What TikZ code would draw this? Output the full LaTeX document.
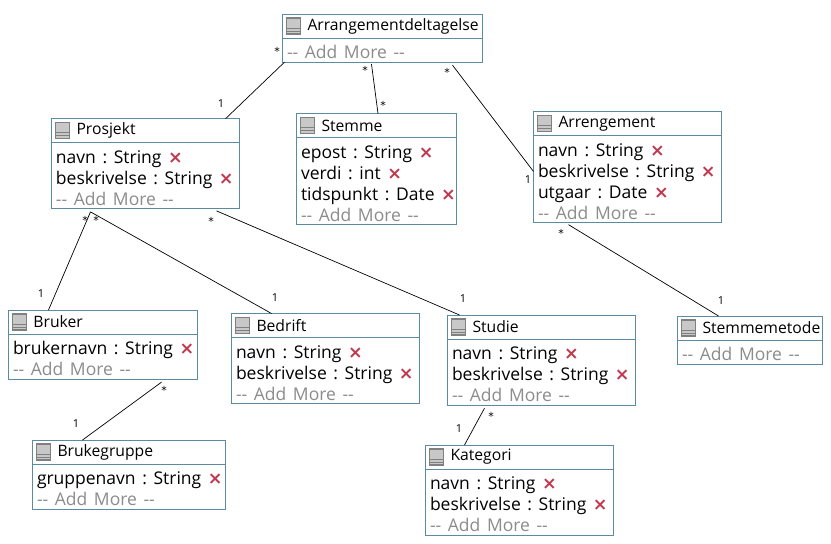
\documentclass[tikz,border=0pt]{standalone}
\usepackage{fontspec}
\setmainfont{Open Sans}
\newfontfamily\xfont{DejaVu Sans}
\usetikzlibrary{positioning}
\frenchspacing
\definecolor{boxline}{HTML}{5B8AA3}
\definecolor{moregray}{HTML}{8C8C8C}
\definecolor{delred}{HTML}{C0394F}
\definecolor{icongray}{HTML}{808080}
\definecolor{iconfill}{HTML}{C8C8C8}
\newcommand{\delx}{\makebox[0pt][l]{\textcolor{delred}{{\xfont\bfseries\char"00D7}}}}
\newcommand{\addmore}{\textcolor{moregray}{{-}{-} Add More {-}{-}}}
\newcommand{\mstar}{\raisebox{-3pt}{\xfont *}}
\newcommand{\bodystart}{\setlength{\spaceskip}{6.6pt}\rule{0pt}{17pt}}
\begin{document}
\begin{tikzpicture}[x=1pt,y=1pt,
classtitle/.style={draw=boxline,line width=1pt,fill=white,outer sep=0pt,anchor=north west,
  text width=#1,minimum height=24pt,inner xsep=0pt,inner ysep=0pt,align=left,
  execute at begin node={\hspace*{25pt}},font=\fontsize{15.7}{18}\selectfont},
classbody/.style={draw=boxline,line width=1pt,fill=white,outer sep=0pt,text width=#1-9pt,
  inner xsep=4.5pt,inner ysep=3.5pt,align=left,execute at begin node={\bodystart},
  font=\fontsize{17.5}{21}\selectfont},
link/.style={draw,line width=0.7pt},
mult/.style={font=\fontsize{11}{12}\selectfont,inner sep=0pt},
pics/classicon/.style={code={
  \draw[icongray,line width=1.5pt,fill=iconfill] (-7,-8) rectangle (7,8);
  \draw[icongray,line width=1pt] (-7,-2) -- (7,-2) (-7,-5) -- (7,-5);
}}]
\useasboundingbox (0,0) rectangle (831,-544);

% connectors first, boxes on top
\node[classtitle=200pt] (deltagelse) at (282.5,-14) {Arrangementdeltagelse};
\node[classbody=200pt,below=0pt of deltagelse] (deltagelsebody) {\addmore};
\pic at ([xshift=11pt]deltagelse.west) {classicon};

\node[classtitle=188pt] (prosjekt) at (51.5,-118.7) {Prosjekt};
\node[classbody=188pt,below=0pt of prosjekt] (prosjektbody) {navn : String \delx\\beskrivelse : String \delx\\\addmore};
\pic at ([xshift=11pt]prosjekt.west) {classicon};

\node[classtitle=160pt] (stemme) at (296.5,-113.5) {Stemme};
\node[classbody=160pt,below=0pt of stemme] (stemmebody) {epost : String \delx\\verdi : int \delx\\tidspunkt : Date \delx\\\addmore};
\pic at ([xshift=11pt]stemme.west) {classicon};

\node[classtitle=188pt] (arrengement) at (533.5,-111.5) {Arrengement};
\node[classbody=188pt,below=0pt of arrengement] (arrengementbody) {navn : String \delx\\beskrivelse : String \delx\\utgaar : Date \delx\\\addmore};
\pic at ([xshift=11pt]arrengement.west) {classicon};

\node[classtitle=189pt] (bruker) at (8.5,-310) {Bruker};
\node[classbody=189pt,below=0pt of bruker] (brukerbody) {brukernavn : String \delx\\\addmore};
\pic at ([xshift=11pt]bruker.west) {classicon};

\node[classtitle=188pt] (bedrift) at (231.5,-313.5) {Bedrift};
\node[classbody=188pt,below=0pt of bedrift] (bedriftbody) {navn : String \delx\\beskrivelse : String \delx\\\addmore};
\pic at ([xshift=11pt]bedrift.west) {classicon};

\node[classtitle=188pt] (studie) at (447.5,-315) {Studie};
\node[classbody=188pt,below=0pt of studie] (studiebody) {navn : String \delx\\beskrivelse : String \delx\\\addmore};
\pic at ([xshift=11pt]studie.west) {classicon};

\node[classtitle=145pt] (stemmemetode) at (677.5,-316) {Stemmemetode};
\node[classbody=145pt,below=0pt of stemmemetode] (stemmemetodebody) {\addmore};
\pic at ([xshift=11pt]stemmemetode.west) {classicon};

\node[classtitle=193pt] (brukegruppe) at (32.5,-440) {Brukegruppe};
\node[classbody=193pt,below=0pt of brukegruppe] (brukegruppebody) {gruppenavn : String \delx\\\addmore};
\pic at ([xshift=11pt]brukegruppe.west) {classicon};

\node[classtitle=188pt] (kategori) at (425.5,-445) {Kategori};
\node[classbody=188pt,below=0pt of kategori] (kategoribody) {navn : String \delx\\beskrivelse : String \delx\\\addmore};
\pic at ([xshift=11pt]kategori.west) {classicon};

\draw[link] ([xshift=2pt]deltagelsebody.south west) -- ([xshift=-14pt]prosjekt.north east);
\draw[link] ([shift={(-11pt,-2pt)}]deltagelsebody.south) -- ([xshift=1.5pt]stemme.north);
\draw[link] ([shift={(-30pt,-3pt)}]deltagelsebody.south east) -- ([yshift=-60pt]arrengement.north west);
\draw[link] ([shift={(39pt,-3pt)}]prosjektbody.south west) -- ([xshift=40pt]bruker.north west);
\draw[link] ([shift={(39pt,-3pt)}]prosjektbody.south west) -- ([xshift=40pt]bedrift.north west);
\draw[link] ([shift={(-23pt,-2pt)}]prosjektbody.south east) -- ([xshift=12pt]studie.north west);
\draw[link] ([shift={(35pt,-2pt)}]arrengementbody.south west) -- ([xshift=41pt]stemmemetode.north west);
\draw[link] ([shift={(-36pt,-3pt)}]brukerbody.south east) -- ([xshift=50pt]brukegruppe.north west);
\draw[link] ([shift={(37pt,-3pt)}]studiebody.south west) -- ([xshift=39pt]kategori.north west);

\foreach \name/\px/\py/\txt in {
  m1/277/51/\mstar, m2/221/104/1, m3/365/70/\mstar, m4/383/105/\mstar, m5/447/72/\mstar, m6/528/180/1,
  m7/41/294/1, m8/85/220/\mstar, m9/96/220/\mstar, m10/275/298/1, m11/211/221/\mstar, m12/463/299/1,
  m13/561/233/\mstar, m14/721/301/1, m15/164/390/\mstar, m16/76/424/1, m17/491/416/\mstar, m18/459/429/1}
  \node[mult] (\name) at (\px,-\py) {\txt};
\end{tikzpicture}
\end{document}
